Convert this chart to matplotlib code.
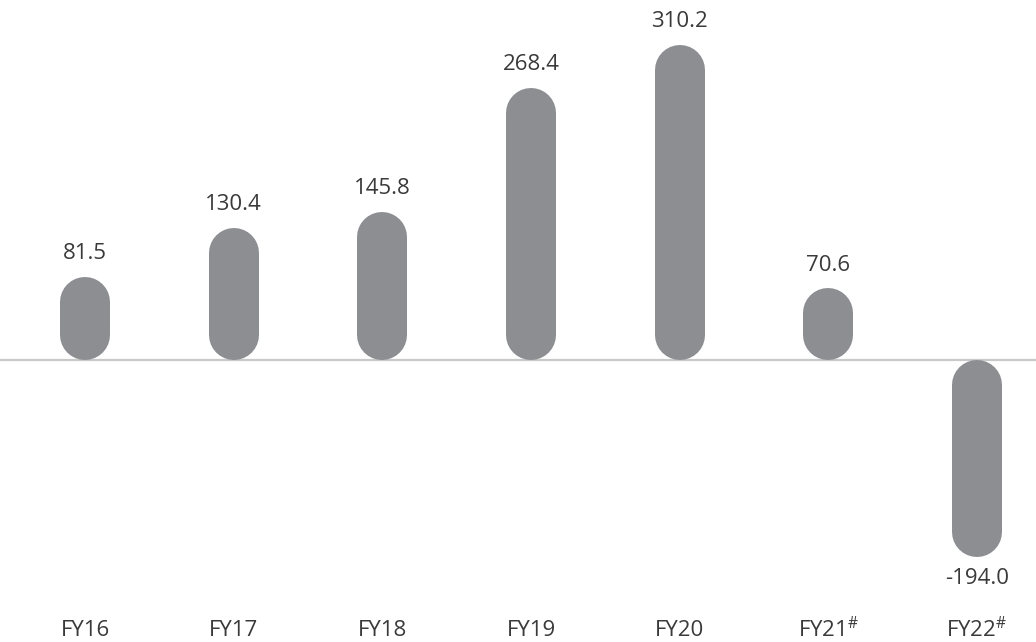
import matplotlib
matplotlib.use("Agg")
from matplotlib import pyplot as plt

years = ['FY16', 'FY17', 'FY18', 'FY19', 'FY20', r'FY21$^{\#}$', r'FY22$^{\#}$']
values = [81.5, 130.4, 145.8, 268.4, 310.2, 70.6, -194.0]
value_labels = ['81.5', '130.4', '145.8', '268.4', '310.2', '70.6', '-194.0']

bar_color = '#8c8e92'
text_color = '#3a3a3a'

plt.rcParams['font.family'] = ['Open Sans', 'DejaVu Sans']
plt.rcParams['mathtext.fontset'] = 'custom'
plt.rcParams['mathtext.rm'] = 'Open Sans'

fig = plt.figure(figsize=(10.36, 6.42), dpi=100)
ax = fig.add_axes([0, 0, 1, 1])
ax.set_xlim(-0.572, 6.397)
ax.set_ylim(-277.8, 354.7)
ax.axis('off')

ax.axhline(0, color='#c9c9c9', lw=1.6, zorder=1)

# capsule bars: thick lines with round caps, 50 px wide
bar_px = 50
lw_pt = bar_px * 72 / fig.dpi
px_per_y = fig.get_figheight() * fig.dpi / (354.7 + 277.8)
r = (bar_px / 2) / px_per_y  # cap radius in data units
x = list(range(len(values)))
for xi, v in zip(x, values):
    lo, hi = sorted([0, v])
    ax.plot([xi, xi], [lo + r, hi - r], color=bar_color, lw=lw_pt,
            solid_capstyle='round', zorder=2)

for xi, v, lab in zip(x, values, value_labels):
    if v >= 0:
        ax.text(xi, v + 23, lab, ha='center', va='center', fontsize=16, color=text_color)
    else:
        ax.text(xi, v - 21, lab, ha='center', va='center', fontsize=16, color=text_color)

for xi, yr in zip(x, years):
    ax.text(xi, -266, yr, ha='center', va='center', fontsize=16, color=text_color)

fig.savefig('out.png', dpi=100, facecolor='white')
